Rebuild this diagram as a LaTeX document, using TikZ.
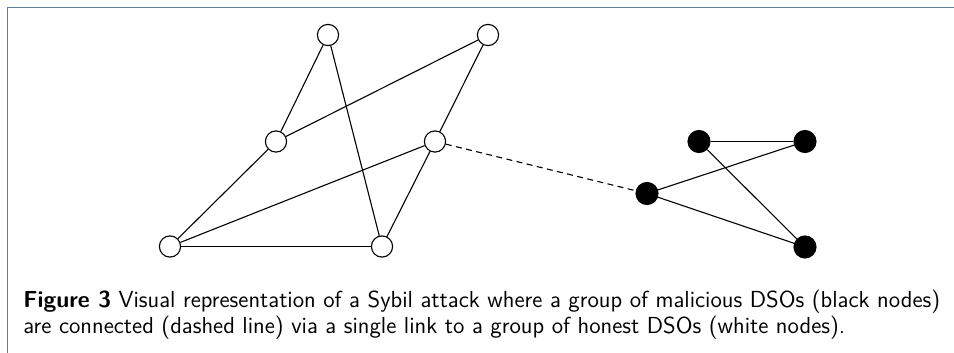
\documentclass[tikz,border=0pt]{standalone}
\usepackage{xcolor}
\definecolor{framecol}{HTML}{5F7D9E}
\begin{document}
\begin{tikzpicture}[x=0.5pt,y=-0.5pt,
  honest/.style={circle,draw=black,fill=white,line width=0.55pt,minimum size=10.6pt,inner sep=0pt},
  sybil/.style={circle,draw=black,fill=black,line width=0.55pt,minimum size=11pt,inner sep=0pt},
  link/.style={line width=0.55pt},
  sybillink/.style={line width=0.55pt,dash pattern=on 3pt off 2.2pt}]
\useasboundingbox (0,0) rectangle (954,353);
\draw[framecol,line width=0.8pt] (7.5,353) -- (7.5,7.5) -- (954,7.5);
% honest nodes
\node[honest] (A) at (328,35) {};
\node[honest] (B) at (488,35) {};
\node[honest] (C) at (276,141.5) {};
\node[honest] (D) at (435,141.5) {};
\node[honest] (E) at (170,246.5) {};
\node[honest] (F) at (382,246.5) {};
% sybil nodes
\node[sybil] (G) at (647,193.5) {};
\node[sybil] (H) at (699,141.5) {};
\node[sybil] (I) at (805,141.5) {};
\node[sybil] (J) at (805,247) {};
% honest links
\draw[link] (A) -- (C);
\draw[link] (A) -- (F);
\draw[link] (B) -- (C);
\draw[link] (B) -- (D);
\draw[link] (C) -- (E);
\draw[link] (D) -- (E);
\draw[link] (D) -- (F);
\draw[link] (E) -- (F);
% attack link
\draw[sybillink] (D) -- (G);
% sybil links
\draw[link] (G) -- (I);
\draw[link] (G) -- (J);
\draw[link] (H) -- (I);
\draw[link] (H) -- (J);
% caption
\node[anchor=base west,align=left,inner sep=0pt,font=\sffamily\fontsize{11.6}{10.5}\selectfont] (cap) at (23,333)
  {\textbf{Figure 3} Visual representation of a Sybil attack where a group of malicious DSOs (black nodes)\\
   are connected (dashed line) via a single link to a group of honest DSOs (white nodes).};
\end{tikzpicture}
\end{document}
